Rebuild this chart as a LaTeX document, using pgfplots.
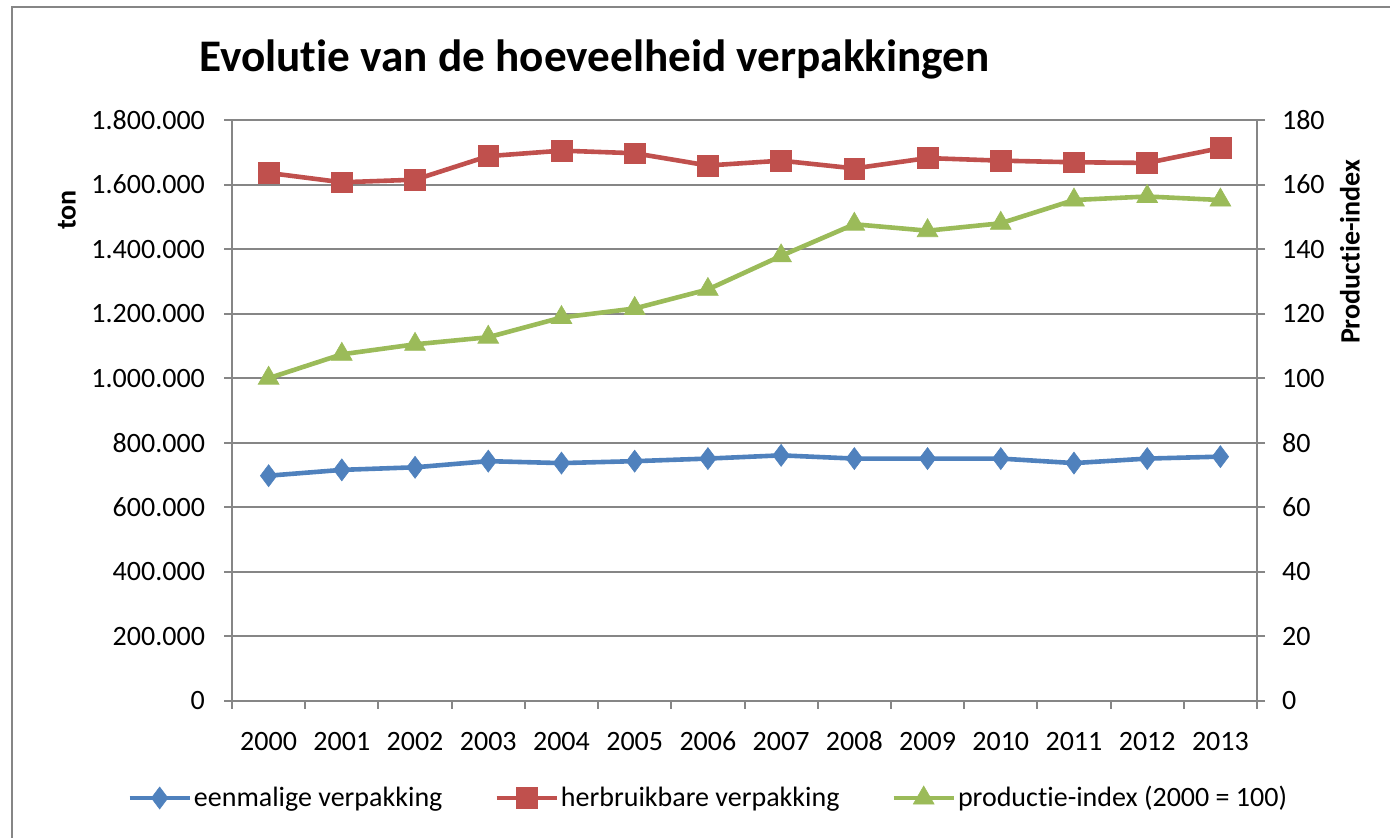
\documentclass[border=0pt]{standalone}
\usepackage{pgfplots}
\pgfplotsset{compat=1.18}
\usepackage{fontspec}
\setmainfont{Carlito}[Ligatures=NoCommon]
\definecolor{axgray}{RGB}{134,134,134}
\definecolor{cblue}{RGB}{79,129,189}
\definecolor{cred}{RGB}{192,80,77}
\definecolor{cgreen}{RGB}{155,187,89}
\pgfplotstableread{
x eenmalig herbruikbaar
0 698000 1636000
1 716000 1607000
2 724000 1615000
3 743000 1688000
4 737000 1705000
5 743000 1697000
6 751000 1659000
7 761000 1674000
8 751000 1650000
9 751000 1682000
10 751000 1674000
11 737000 1669000
12 751000 1667000
13 757000 1713000
}\tonnage
\pgfplotstableread{
x index
0 100
1 107.4
2 110.5
3 112.7
4 118.8
5 121.6
6 127.5
7 137.9
8 147.7
9 145.7
10 148.0
11 155.2
12 156.3
13 155.2
}\prodindex
\begin{document}
\begin{tikzpicture}[x=0.5pt,y=0.5pt]
\useasboundingbox (0,0) rectangle (1390,838);
\draw[axgray, line width=1pt] (12,0) -- (12,831) -- (1390,831);
\node[anchor=base west, inner sep=0pt, font=\fontsize{22.6}{26}\selectfont\bfseries] at (199,766) {Evolutie van de hoeveelheid verpakkingen};
\pgfplotsset{
  common/.style={
    width=512.5pt, height=290.5pt, scale only axis,
    at={(116pt,68.5pt)}, anchor=south west,
    xmin=-0.5, xmax=13.5,
    axis line style={axgray, line width=1pt},
    tick style={axgray, line width=1pt},
    tick align=outside, major tick length=4pt,
    ticklabel style={font=\fontsize{14}{16}\selectfont, text=black},
    label style={font=\fontsize{14}{16}\selectfont\bfseries},
    scaled y ticks=false,
    clip=false,
  },
}
\begin{axis}[common,
  ymin=0, ymax=1800000,
  axis x line*=bottom, axis y line*=left,
  xtick={-0.5,0.5,1.5,2.5,3.5,4.5,5.5,6.5,7.5,8.5,9.5,10.5,11.5,12.5,13.5},
  x tick label as interval,
  xticklabels={2000,2001,2002,2003,2004,2005,2006,2007,2008,2009,2010,2011,2012,2013},
  xticklabel style={anchor=north, text height=10pt, text depth=0pt, yshift=-7pt},
  yticklabel style={xshift=-6pt},
  ytick={0,200000,400000,600000,800000,1000000,1200000,1400000,1600000,1800000},
  yticklabels={0,200.000,400.000,600.000,800.000,1.000.000,1.200.000,1.400.000,1.600.000,1.800.000},
  ymajorgrids, grid style={axgray, line width=1pt},
  ylabel={ton},
  ylabel style={at={(axis description cs:-0.161,0.845)}, anchor=center},
]
\addplot[cblue, line width=2.3pt, mark=diamond*, mark size=5.5pt, mark options={solid, line width=0.3pt}] table[x=x, y=eenmalig] {\tonnage};
\addplot[cred, line width=2.3pt, mark=square*, mark size=5.2pt, mark options={solid, line width=0.3pt}] table[x=x, y=herbruikbaar] {\tonnage};
\end{axis}
\begin{axis}[common,
  ymin=0, ymax=180,
  axis x line=none, axis y line*=right,
  ytick={0,20,40,60,80,100,120,140,160,180},
  yticklabels={0,20,40,60,80,100,120,140,160,180},
  yticklabel style={xshift=5pt},
  ylabel={Productie-index},
  ylabel style={at={(axis description cs:1.0907,0.773)}, anchor=center, rotate=0},
  legend columns=3,
  legend style={draw=none, fill=none, at={(-0.1025,-0.167)}, anchor=west, inner sep=0pt,
    nodes={inner sep=1pt, font=\fontsize{14}{16}\selectfont},
    /tikz/every even column/.append style={column sep=25pt}},
  legend image code/.code={\draw[mark repeat=2, mark phase=2, #1] plot coordinates {(0pt,0pt) (15pt,0pt) (30pt,0pt)};},
]
\addlegendimage{cblue, line width=2.3pt, mark=diamond*, mark size=5.5pt, mark options={solid, line width=0.3pt}}
\addlegendentry{eenmalige verpakking}
\addlegendimage{cred, line width=2.3pt, mark=square*, mark size=5.2pt, mark options={solid, line width=0.3pt}}
\addlegendentry{herbruikbare verpakking}
\addplot[cgreen, line width=2.3pt, mark=triangle*, mark size=6pt, mark options={solid, line width=0.3pt}] table[x=x, y=index] {\prodindex};
\addlegendentry{productie-index (2000 = 100)}
\end{axis}
\end{tikzpicture}
\end{document}
